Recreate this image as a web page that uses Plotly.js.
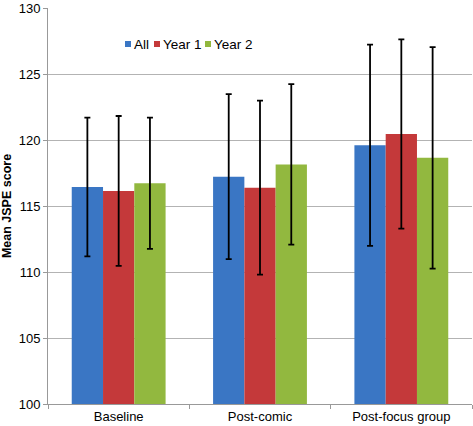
<!DOCTYPE html>
<html><head><meta charset="utf-8">
<script src="https://cdn.plot.ly/plotly-3.0.1.min.js"></script>
<style>html,body{margin:0;padding:0;background:#fff}#chart{width:473px;height:426px}</style>
</head><body><div id="chart"></div>
<script>
const categories = ["Baseline", "Post-comic", "Post-focus group"];
const seriesNames = ["All", "Year 1", "Year 2"];
const allMeans = [116.44, 117.22, 119.60];
const allErr = [5.25, 6.25, 7.62];
const year1Means = [116.14, 116.39, 120.45];
const year1Err = [5.68, 6.59, 7.17];
const year2Means = [116.72, 118.15, 118.65];
const year2Err = [4.97, 6.08, 8.39];
const yTicks = [100, 105, 110, 115, 120, 125, 130];

const colors = ["#3a76c4", "#c4393a", "#92b83f"];
const means = [allMeans, year1Means, year2Means];
const errs = [allErr, year1Err, year2Err];

const traces = seriesNames.map((n, i) => ({
  type: "bar", name: n, x: categories, y: means[i],
  base: 0,
  marker: {color: colors[i], line: {width: 0}},
  error_y: {type: "data", array: errs[i], visible: true, color: "#000", thickness: 1.8, width: 3}
}));

// plot area in pixels (for placing the legend squares/labels)
const L = 48, R = 1, T = 8, B = 22, W = 473, H = 426;
const pw = W - L - R, ph = H - T - B;
const px = v => (v - L) / pw;
const py = v => (H - B - v) / ph;

const legendItems = [
  {sq: 125, tx: 131.5},
  {sq: 154, tx: 160.5},
  {sq: 205, tx: 211.5}
];
const shapes = legendItems.map((it, i) => ({
  type: "rect", xref: "paper", yref: "paper",
  x0: px(it.sq), x1: px(it.sq + 6), y0: py(47), y1: py(41),
  fillcolor: colors[i], line: {width: 0}
}));
const annotations = legendItems.map((it, i) => ({
  xref: "paper", yref: "paper", x: px(it.tx), y: py(44), xanchor: "left", yanchor: "middle",
  text: seriesNames[i], showarrow: false, font: {size: 13.5, color: "#000"}
}));

const layout = {
  width: W, height: H,
  margin: {l: L, r: R, t: T, b: B},
  paper_bgcolor: "#fff", plot_bgcolor: "#fff",
  barmode: "group", bargap: 0.336, bargroupgap: 0,
  font: {family: "Liberation Sans, Arial, sans-serif", size: 13, color: "#000"},
  showlegend: false,
  shapes: shapes,
  annotations: annotations,
  xaxis: {type: "category", tickson: "boundaries", ticks: "outside", ticklen: 4, tickcolor: "#999",
    showline: true, linecolor: "#999", linewidth: 1, showgrid: false,
    tickfont: {size: 13, color: "#000"}},
  yaxis: {range: [100, 130], tickvals: yTicks, ticks: "outside", ticklen: 4, tickcolor: "#999",
    showline: true, linecolor: "#999", linewidth: 1, ticklabeloverflow: "allow",
    showgrid: true, gridcolor: "#b3b3b3", gridwidth: 1, zeroline: false,
    tickfont: {size: 13, color: "#000"},
    title: {text: "<b>Mean JSPE score</b>", font: {size: 12.5, color: "#000"}, standoff: 10}}
};

Plotly.newPlot("chart", traces, layout, {displayModeBar: false, staticPlot: true});
</script></body></html>
